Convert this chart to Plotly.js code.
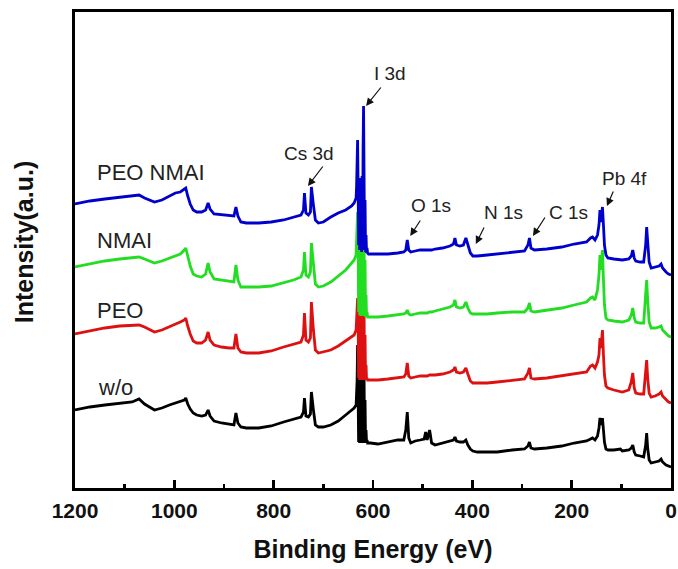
<!DOCTYPE html>
<html>
<head>
<meta charset="utf-8">
<script src="https://cdn.plot.ly/plotly-3.0.1.min.js"></script>
<style>
  html, body { margin: 0; padding: 0; background: #fff; }
  #chart { width: 678px; height: 569px; }
</style>
</head>
<body>
<div id="chart"></div>
<script>
// XPS survey spectra (binding energy in eV, intensity in arbitrary units, stacked)
const bindingEnergy = [
  1200, 1170, 1140, 1110, 1085, 1071, 1060, 1040, 1025, 1010,
  998, 988, 980, 977, 973, 968, 962, 955, 945, 937,
  932, 928, 920, 905, 890, 880, 876, 872, 866, 855,
  830, 805, 780, 760, 745, 740, 738, 735, 730, 726,
  724, 720, 716, 710, 700, 685, 670, 655, 643, 638,
  634, 633, 632, 631, 630, 629, 628, 627, 626, 625,
  624, 623, 622, 621, 620, 619, 618, 617, 616, 615,
  614, 613, 612, 611, 610, 609,
  605, 590, 570, 550, 538, 534, 531, 528, 524, 515,
  505, 497, 494, 491, 486, 482, 475, 460, 445, 438,
  435, 432, 425, 418, 413, 409, 404, 399, 390, 370,
  350, 320, 295, 288, 285, 282, 275, 250, 220, 195,
  180, 170, 162, 158, 153, 148, 145, 143, 141, 139,
  138, 136, 134, 131, 127, 115, 102, 98, 85, 80,
  77, 74, 71, 62, 55, 51, 49, 47, 44, 40,
  32, 24, 20, 17, 10, 5, 0
];

const intensityPeoNmai = [
  284, 287, 289, 291, 292, 293, 290, 286, 288, 292,
  295, 296, 299, 300, 292, 284, 278, 276, 276, 278,
  285, 279, 274, 273, 272, 272, 281, 272, 266, 265,
  265, 266, 268, 271, 273, 278, 295, 275, 273, 276,
  301, 283, 268, 265, 266, 271, 275, 278, 282, 285,
  290, 303, 328, 348, 303, 243, 306, 238, 310, 238,
  308, 236, 312, 238, 338, 382, 313, 238, 288, 236,
  253, 235, 240, 235, 234, 234,
  234, 234, 234, 235, 236, 238, 248, 238, 236, 237,
  238, 238, 238, 238, 238, 238, 239, 240, 242, 244,
  250, 243, 242, 243, 250, 242, 235, 232, 232, 233,
  234, 236, 237, 243, 250, 240, 238, 239, 241, 244,
  245, 246, 250, 251, 248, 253, 263, 278, 266, 276,
  281, 263, 243, 233, 230, 229, 228, 228, 229, 232,
  238, 230, 227, 226, 226, 243, 261, 243, 226, 220,
  221, 222, 224, 220, 216, 214, 213
];

const intensityNmai = [
  221, 224, 227, 229, 230, 231, 229, 225, 227, 230,
  232, 234, 238, 240, 232, 222, 214, 212, 211, 214,
  225, 216, 209, 208, 207, 206, 223, 208, 201, 201,
  201, 202, 205, 208, 211, 218, 236, 213, 211, 216,
  245, 223, 204, 201, 202, 206, 212, 218, 225, 228,
  233, 243, 258, 276, 248, 176, 253, 173, 256, 172,
  253, 172, 258, 173, 268, 283, 256, 172, 228, 171,
  193, 171, 176, 171, 171, 171,
  171, 171, 172, 173, 174, 175, 178, 174, 173, 174,
  175, 175, 175, 175, 176, 176, 177, 179, 181, 183,
  188, 181, 180, 181, 186, 180, 175, 174, 174, 174,
  175, 176, 176, 180, 185, 177, 176, 178, 180, 183,
  185, 186, 190, 191, 188, 198, 213, 233, 218, 230,
  238, 208, 183, 170, 168, 167, 166, 166, 168, 173,
  180, 170, 166, 165, 165, 188, 208, 188, 166, 160,
  160, 161, 162, 158, 154, 152, 151
];

const intensityPeo = [
  154, 157, 160, 162, 163, 163, 161, 156, 158, 161,
  164, 166, 168, 170, 162, 154, 147, 145, 145, 148,
  156, 148, 143, 141, 140, 140, 154, 140, 136, 135,
  135, 137, 141, 144, 146, 153, 175, 148, 146, 150,
  186, 158, 138, 135, 136, 138, 142, 147, 151, 153,
  158, 168, 178, 190, 170, 110, 176, 108, 178, 108,
  176, 108, 180, 108, 188, 196, 178, 108, 153, 108,
  123, 108, 110, 108, 108, 108,
  108, 108, 109, 110, 111, 114, 125, 112, 110, 111,
  112, 112, 112, 112, 113, 113, 113, 114, 116, 118,
  121, 116, 115, 116, 120, 114, 107, 105, 105, 105,
  106, 108, 109, 115, 120, 110, 109, 110, 112, 114,
  115, 116, 122, 123, 120, 126, 133, 150, 140, 153,
  158, 133, 113, 102, 100, 98, 97, 96, 98, 106,
  115, 100, 95, 94, 94, 113, 128, 110, 95, 91,
  92, 94, 96, 92, 88, 86, 85
];

const intensityWithout = [
  78, 81, 83, 85, 86, 89, 84, 78, 80, 83,
  85, 86, 88, 90, 84, 79, 75, 73, 72, 73,
  78, 72, 67, 65, 64, 63, 75, 65, 61, 60,
  60, 62, 66, 69, 71, 76, 90, 72, 71, 74,
  96, 78, 63, 61, 61, 63, 67, 73, 78, 80,
  83, 93, 108, 143, 103, 46, 110, 45, 113, 45,
  110, 45, 116, 45, 128, 153, 113, 45, 88, 45,
  58, 45, 48, 45, 45, 45,
  45, 44, 46, 48, 48, 58, 76, 50, 45, 47,
  48, 49, 56, 48, 58, 45, 43, 45, 47, 48,
  51, 47, 46, 46, 48, 43, 39, 37, 36, 36,
  36, 38, 39, 42, 46, 40, 39, 40, 42, 45,
  46, 47, 49, 50, 48, 52, 60, 70, 63, 68,
  70, 58, 46, 39, 38, 38, 39, 37, 38, 40,
  43, 36, 33, 32, 31, 43, 55, 40, 28, 25,
  26, 27, 29, 26, 23, 22, 21
];

const sampleNames = ['w/o', 'PEO', 'NMAI', 'PEO NMAI'];
const peakNames = ['I 3d', 'Cs 3d', 'O 1s', 'N 1s', 'C 1s', 'Pb 4f'];
const tickEnergies = [1200, 1000, 800, 600, 400, 200, 0];

const seriesList = [
  { y: intensityWithout, color: '#000000' },
  { y: intensityPeo, color: '#dd1111' },
  { y: intensityNmai, color: '#22dd22' },
  { y: intensityPeoNmai, color: '#0000cc' }
];

const traces = seriesList.map((s, i) => ({
  type: 'scatter',
  mode: 'lines',
  x: bindingEnergy,
  y: s.y,
  name: sampleNames[i],
  line: { color: s.color, width: 2.8 },
  hoverinfo: 'skip'
}));

const textFont = { family: 'Liberation Sans, Arial, sans-serif', size: 22, color: '#222222' };
const peakFont = { family: 'Liberation Sans, Arial, sans-serif', size: 19, color: '#222222' };

// sample name labels at the left of each curve
const sampleLabelPos = [
  { x: 1158, y: 101 },
  { x: 1160, y: 178 },
  { x: 1160, y: 248 },
  { x: 1160, y: 316 }
];
const sampleLabels = sampleNames.map((t, i) => ({
  text: t, x: sampleLabelPos[i].x, y: sampleLabelPos[i].y,
  xref: 'x', yref: 'y', xanchor: 'left', yanchor: 'middle',
  showarrow: false, font: textFont
}));

// peak assignments: label position and arrow tip
const peakLabelPos = [
  { x: 566, y: 415 }, { x: 729, y: 335 }, { x: 483, y: 283 },
  { x: 338, y: 276 }, { x: 207, y: 276 }, { x: 93, y: 310 }
];
const peakArrowTip = [
  { x: 614, y: 382, ax: 16, ay: -20 },
  { x: 731, y: 302, ax: 16, ay: -21 },
  { x: 525, y: 252, ax: 11, ay: -17 },
  { x: 393, y: 244, ax: 9, ay: -18 },
  { x: 278, y: 252, ax: 13, ay: -20 },
  { x: 129, y: 282, ax: 7, ay: -16 }
];
const peakLabels = peakNames.map((t, i) => ({
  text: t, x: peakLabelPos[i].x, y: peakLabelPos[i].y,
  xref: 'x', yref: 'y', xanchor: 'center', yanchor: 'middle',
  showarrow: false, font: peakFont
}));
const peakArrows = peakArrowTip.map(p => ({
  text: '', x: p.x, y: p.y, xref: 'x', yref: 'y',
  showarrow: true, ax: p.ax, ay: p.ay,
  arrowhead: 2, arrowsize: 1.3, arrowwidth: 1.2, arrowcolor: '#111111', standoff: 0
}));

const yTitle = {
  text: '<b>Intensity(a.u.)</b>', textangle: -90,
  xref: 'paper', yref: 'paper', x: -0.085, y: 0.517,
  xanchor: 'center', yanchor: 'middle', showarrow: false,
  font: { family: 'Liberation Sans, Arial, sans-serif', size: 25, color: '#111111' }
};

const layout = {
  width: 678, height: 569,
  margin: { l: 75, r: 7, t: 12, b: 81 },
  paper_bgcolor: '#ffffff', plot_bgcolor: '#ffffff',
  showlegend: false,
  xaxis: {
    range: [1200, 0],
    tickvals: tickEnergies,
    ticktext: tickEnergies.map(String),
    ticks: 'inside', ticklen: 8, tickwidth: 2.5, tickcolor: '#000',
    minor: { dtick: 100, tick0: 0, ticks: 'inside', ticklen: 4, tickwidth: 2.5, tickcolor: '#000' },
    showline: true, linewidth: 3, linecolor: '#000', mirror: true,
    showgrid: false, zeroline: false,
    ticklabelstandoff: 2,
    tickfont: { family: 'Liberation Sans, Arial, sans-serif', size: 21, color: '#111', weight: 'bold' },
    title: {
      text: 'Binding Energy (eV)', standoff: 20,
      font: { family: 'Liberation Sans, Arial, sans-serif', size: 25, color: '#111', weight: 'bold' }
    }
  },
  yaxis: {
    range: [0, 476],
    showticklabels: false, ticks: '',
    showline: true, linewidth: 3, linecolor: '#000', mirror: true,
    showgrid: false, zeroline: false
  },
  annotations: [...sampleLabels, ...peakLabels, ...peakArrows, yTitle]
};

Plotly.newPlot('chart', traces, layout, { displayModeBar: false, staticPlot: true });
</script>
</body>
</html>
